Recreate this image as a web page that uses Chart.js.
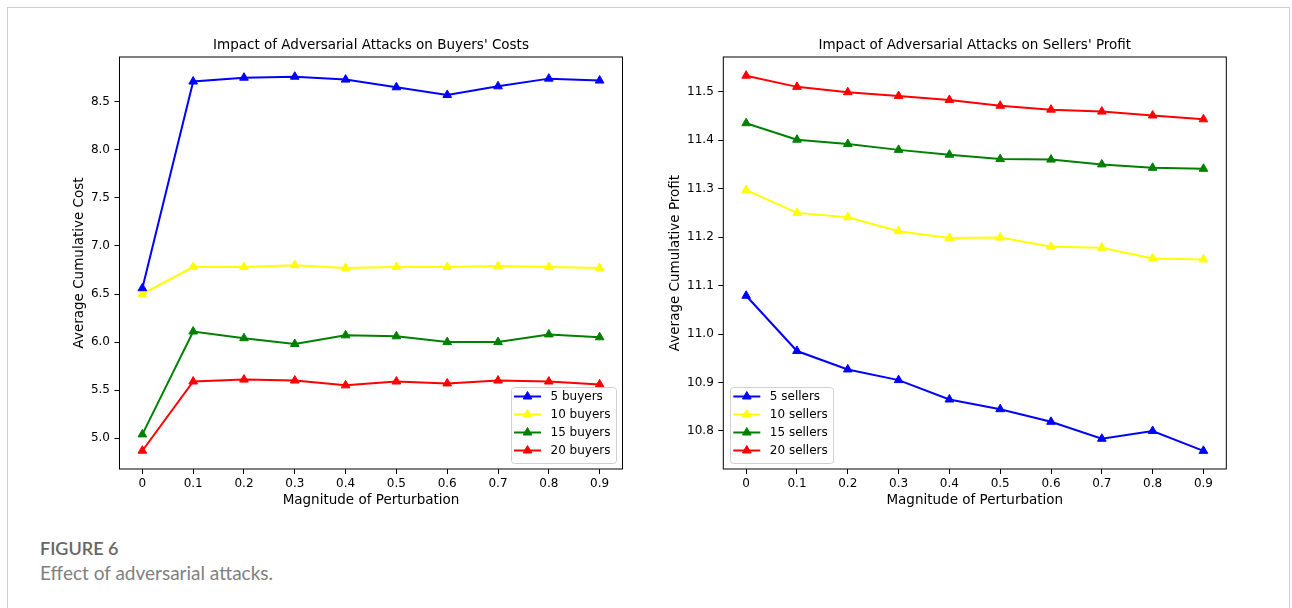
<!DOCTYPE html>
<html>
<head>
<meta charset="utf-8">
<script src="https://cdn.jsdelivr.net/npm/chart.js@4/dist/chart.umd.min.js"></script>
<style>
  html, body { margin:0; padding:0; background:#fff; }
  body { width:1292px; height:608px; position:relative; overflow:hidden; }
  #frame { position:absolute; left:7px; top:7px; width:1283px; height:700px; border:1px solid #cfcfcf; box-sizing:border-box; }
  .box { position:absolute; top:0; height:520px; }
  #cap1 { position:absolute; left:40px; top:537px; font:600 18px Lato, "Open Sans", sans-serif; color:#666; line-height:22px; }
  #cap2 { position:absolute; left:40px; top:562px; font:400 19px Lato, "Open Sans", sans-serif; color:#808080; line-height:22px; }
</style>
</head>
<body>
<div id="frame"></div>
<div class="box" style="left:0;width:640px"><canvas id="costChart"></canvas></div>
<div class="box" style="left:640px;width:652px"><canvas id="profitChart"></canvas></div>
<div id="cap1">FIGURE 6</div>
<div id="cap2">Effect of adversarial attacks.</div>

<script>
// ====== Data ======
const magnitudes = [0, 0.1, 0.2, 0.3, 0.4, 0.5, 0.6, 0.7, 0.8, 0.9];

const buyers5  = [6.56, 8.71, 8.75, 8.76, 8.73, 8.65, 8.57, 8.66, 8.74, 8.72];
const buyers10 = [6.50, 6.78, 6.78, 6.80, 6.77, 6.78, 6.78, 6.79, 6.78, 6.77];
const buyers15 = [5.04, 6.11, 6.04, 5.98, 6.07, 6.06, 6.00, 6.00, 6.08, 6.05];
const buyers20 = [4.87, 5.59, 5.61, 5.60, 5.55, 5.59, 5.57, 5.60, 5.59, 5.56];

const sellers5  = [11.079, 10.965, 10.927, 10.905, 10.865, 10.845, 10.819, 10.784, 10.800, 10.759];
const sellers10 = [11.297, 11.250, 11.241, 11.212, 11.198, 11.199, 11.180, 11.178, 11.156, 11.154];
const sellers15 = [11.435, 11.401, 11.392, 11.380, 11.370, 11.361, 11.360, 11.350, 11.343, 11.341];
const sellers20 = [11.533, 11.510, 11.499, 11.491, 11.483, 11.471, 11.463, 11.459, 11.451, 11.443];

const costTicks   = [5.0, 5.5, 6.0, 6.5, 7.0, 7.5, 8.0, 8.5];
const profitTicks = [10.8, 10.9, 11.0, 11.1, 11.2, 11.3, 11.4, 11.5];

const seriesColors = ['#0000ff', '#ffff00', '#008000', '#ff0000'];

// ====== Helpers ======
function toPoints(vals){ return vals.map((v,i)=>({x:magnitudes[i], y:v})); }

function makeSets(labels, series){
  return series.map((s,i)=>({
    label: labels[i], data: toPoints(s),
    borderColor: seriesColors[i], backgroundColor: seriesColors[i],
    borderWidth: 2, pointStyle: 'triangle', pointRadius: 5, pointBorderWidth: 1,
    pointHoverRadius: 5, tension: 0
  }));
}

function triangle(ctx, x, y, r){
  ctx.beginPath();
  ctx.moveTo(x, y - r);
  ctx.lineTo(x + r*Math.sin(2*Math.PI/3), y + r/2);
  ctx.lineTo(x - r*Math.sin(2*Math.PI/3), y + r/2);
  ctx.closePath(); ctx.fill(); ctx.stroke();
}

// spines on all four sides, like matplotlib
const spines = {
  id: 'spines',
  afterDatasetsDraw(chart){
    const {ctx, chartArea:a} = chart;
    ctx.save(); ctx.strokeStyle = '#000'; ctx.lineWidth = 1;
    ctx.strokeRect(a.left, a.top, a.right - a.left, a.bottom - a.top);
    ctx.restore();
  }
};

// framed legend drawn inside the plot area
const boxLegend = {
  id: 'boxLegend',
  afterDraw(chart, args, opts){
    const {ctx, chartArea:a} = chart;
    const sets = chart.data.datasets;
    ctx.save();
    ctx.font = '12px "DejaVu Sans"';
    const tw = Math.max(...sets.map(d=>ctx.measureText(d.label).width));
    const w = 3.5 + 27 + 9.5 + tw + 5, h = 10 + (sets.length-1)*18 + 12;
    const x = opts.side === 'left' ? a.left + 6.5 : a.right - 7 - w;
    const y = a.bottom - 6.5 - h;
    ctx.fillStyle = 'rgba(255,255,255,0.8)'; ctx.strokeStyle = '#d0d0d0'; ctx.lineWidth = 1;
    ctx.beginPath(); ctx.roundRect(Math.round(x)+0.5, Math.round(y)+0.5, Math.round(w), Math.round(h), 3); ctx.fill(); ctx.stroke();
    sets.forEach((d,i)=>{
      const cy = y + 10 + i*18;
      ctx.strokeStyle = d.borderColor; ctx.fillStyle = d.borderColor; ctx.lineWidth = 2;
      ctx.beginPath(); ctx.moveTo(x+3.5, cy); ctx.lineTo(x+30.5, cy); ctx.stroke();
      ctx.lineWidth = 1; triangle(ctx, x+17, cy, 5);
      ctx.fillStyle = '#000'; ctx.textBaseline = 'middle'; ctx.textAlign = 'left';
      ctx.fillText(d.label, x+40, cy+0.5);
    });
    ctx.restore();
  }
};

Chart.defaults.font.family = '"DejaVu Sans"';
Chart.defaults.color = '#000';
Chart.defaults.animation = false;

function buildChart(id, g){
  const labelFont = {size: 13.5, weight: 'normal'};
  return new Chart(document.getElementById(id), {
    type: 'line',
    data: {datasets: g.datasets},
    plugins: [spines, boxLegend],
    options: {
      responsive: true, maintainAspectRatio: false,
      layout: {padding: {left: 0, top: 0, right: g.padRight, bottom: 9}},
      plugins: {
        legend: {display: false}, tooltip: {enabled: false},
        // fullSize false keeps the title centred over the plot area
        title: {display: true, fullSize: false, text: g.title, font: labelFont, color: '#000', padding: {top: 36.9, bottom: 3.9}},
        boxLegend: {side: g.legendSide}
      },
      scales: {
        x: {
          type: 'linear', min: -0.045, max: 0.945,
          afterBuildTicks: s => { s.ticks = magnitudes.map(v=>({value:v})); },
          afterFit: s => { s.height = 42; },
          ticks: {autoSkip: false, maxRotation: 0, padding: 3, font: {size: 12},
            callback: v => v === 0 ? '0' : v.toFixed(1)},
          grid: {drawOnChartArea: false, drawTicks: true, tickLength: 5, tickColor: '#000'},
          border: {display: false},
          title: {display: true, text: 'Magnitude of Perturbation', font: labelFont, padding: {top: 0, bottom: 2.9}}
        },
        y: {
          type: 'linear', min: g.yMin, max: g.yMax,
          afterBuildTicks: s => { s.ticks = g.yTicks.map(v=>({value:v})); },
          afterFit: s => { s.width = g.yWidth; },
          ticks: {padding: 4.5, font: {size: 12}, callback: v => v.toFixed(1)},
          grid: {drawOnChartArea: false, drawTicks: true, tickLength: 5, tickColor: '#000'},
          border: {display: false},
          title: {display: true, text: g.yTitle, font: labelFont, padding: {top: g.yTitlePad, bottom: 0}}
        }
      }
    }
  });
}

buildChart('costChart', {
  title: "Impact of Adversarial Attacks on Buyers' Costs",
  yTitle: 'Average Cumulative Cost',
  datasets: makeSets(['5 buyers','10 buyers','15 buyers','20 buyers'], [buyers5, buyers10, buyers15, buyers20]),
  yTicks: costTicks, yMin: 4.68, yMax: 8.965,
  yWidth: 119.5, yTitlePad: 70.9, padRight: 17.5, legendSide: 'right'
});

buildChart('profitChart', {
  title: "Impact of Adversarial Attacks on Sellers' Profit",
  yTitle: 'Average Cumulative Profit',
  datasets: makeSets(['5 sellers','10 sellers','15 sellers','20 sellers'], [sellers5, sellers10, sellers15, sellers20]),
  yTicks: profitTicks, yMin: 10.7216, yMax: 11.5716,
  yWidth: 83.3, yTitlePad: 26.9, padRight: 65.7, legendSide: 'left'
});
</script>
</body>
</html>
